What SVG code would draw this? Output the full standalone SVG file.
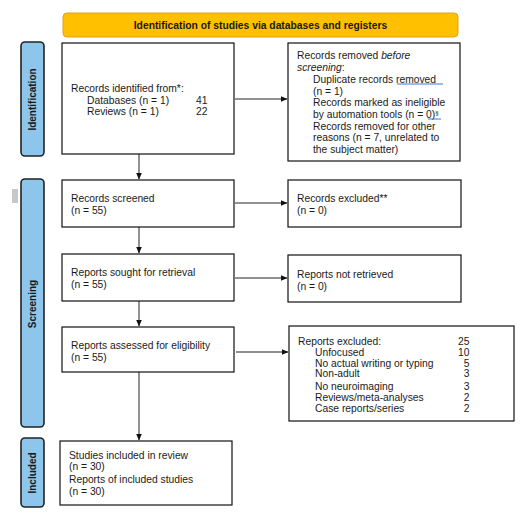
<svg xmlns="http://www.w3.org/2000/svg" width="526" height="522" viewBox="0 0 526 522">
<style>
text{font-family:"Liberation Sans",Arial,sans-serif;font-size:10.3px;fill:#1a1a1a}
.box{fill:#fff;stroke:#111;stroke-width:1.2}
.side{fill:#8ec5eb;stroke:#222;stroke-width:1.6}
.sl{font-weight:bold;font-size:10px;text-anchor:middle}
.hd{font-weight:bold;text-anchor:middle}
.c{stroke:#222;stroke-width:1;fill:none}
.num{text-anchor:end}
.sp{stroke:#3b78d8;stroke-width:1;fill:none}
</style>
<defs>
<marker id="ah" markerWidth="7" markerHeight="6" refX="6.5" refY="3" orient="auto" markerUnits="userSpaceOnUse">
<path d="M0,0 L7,3 L0,6 Z" fill="#111"/>
</marker>
</defs>
<rect width="526" height="522" fill="#fff"/>
<g id="header">
<rect x="63" y="13" width="395" height="24" rx="4" fill="#ffc000" stroke="#e0a31a" stroke-width="1"/>
<text class="hd" x="260.5" y="29">Identification of studies via databases and registers</text>
</g>
<g id="side-identification">
<rect class="side" x="21" y="42" width="23" height="114" rx="4"/>
<text class="sl" transform="translate(36,99.5) rotate(-90)">Identification</text>
</g>
<g id="side-screening">
<rect class="side" x="21" y="179" width="23" height="248" rx="4"/>
<text class="sl" transform="translate(36,304) rotate(-90)">Screening</text>
</g>
<g id="side-included">
<rect class="side" x="21" y="438" width="23" height="69" rx="4"/>
<text class="sl" transform="translate(36,473) rotate(-90)">Included</text>
</g>
<rect x="12" y="189" width="6" height="14" fill="#c8c8c8"/>
<g id="connectors">
<line class="c" x1="235" y1="99" x2="287" y2="99" marker-end="url(#ah)"/>
<line class="c" x1="139" y1="154" x2="139" y2="179" marker-end="url(#ah)"/>
<line class="c" x1="235" y1="203" x2="287" y2="203" marker-end="url(#ah)"/>
<line class="c" x1="139" y1="227" x2="139" y2="253" marker-end="url(#ah)"/>
<line class="c" x1="235" y1="278" x2="287" y2="278" marker-end="url(#ah)"/>
<line class="c" x1="139" y1="301" x2="139" y2="326" marker-end="url(#ah)"/>
<line class="c" x1="236" y1="352" x2="288" y2="352" marker-end="url(#ah)"/>
<line class="c" x1="139" y1="372" x2="139" y2="440" marker-end="url(#ah)"/>
</g>
<g id="records-identified">
<rect class="box" x="62" y="43" width="172" height="111"/>
<text x="71" y="91.5">Records identified from*:</text>
<text x="87" y="103.5">Databases (n = 1)</text>
<text x="196" y="103.5">41</text>
<text x="87" y="114.5">Reviews (n = 1)</text>
<text x="196" y="114.5">22</text>
</g>
<g id="records-removed">
<rect class="box" x="288" y="43" width="172" height="118"/>
<text x="297" y="58.5">Records removed <tspan font-style="italic">before</tspan></text>
<text x="297" y="70.5"><tspan font-style="italic">screening</tspan>:</text>
<text x="313" y="82.5">Duplicate records removed</text>
<text x="313" y="94.5">(n = 1)</text>
<text x="313" y="105.5">Records marked as ineligible</text>
<text x="313" y="117.5">by automation tools (n = 0)<tspan font-size="6" dy="-3">§</tspan></text>
<text x="313" y="129.5">Records removed for other</text>
<text x="313" y="140.5">reasons (n = 7, unrelated to</text>
<text x="313" y="152.5">the subject matter)</text>
<path class="sp" d="M397,84 L443,84"/>
<path class="sp" d="M314.5,91 L314.5,95"/>
<path class="sp" d="M428,119 L441,119"/>
</g>
<g id="records-screened">
<rect class="box" x="62" y="180" width="172" height="47"/>
<text x="71" y="201.5">Records screened</text>
<text x="71" y="213.5">(n = 55)</text>
</g>
<g id="records-excluded">
<rect class="box" x="288" y="180" width="173" height="47"/>
<text x="297" y="201.5">Records excluded**</text>
<text x="297" y="213.5">(n = 0)</text>
</g>
<g id="reports-sought">
<rect class="box" x="62" y="254" width="172" height="47"/>
<text x="71" y="275.5">Reports sought for retrieval</text>
<text x="71" y="287.5">(n = 55)</text>
</g>
<g id="reports-not-retrieved">
<rect class="box" x="288" y="255" width="173" height="47"/>
<text x="297" y="277.5">Reports not retrieved</text>
<text x="297" y="289.5">(n = 0)</text>
</g>
<g id="reports-assessed">
<rect class="box" x="62" y="327" width="172" height="45"/>
<text x="71" y="348.5">Reports assessed for eligibility</text>
<text x="71" y="360.5">(n = 55)</text>
</g>
<g id="reports-excluded">
<rect class="box" x="289" y="326" width="225" height="95"/>
<text x="298" y="344.5">Reports excluded:</text>
<text class="num" x="469.5" y="344.5">25</text>
<text x="315" y="355.5">Unfocused</text>
<text class="num" x="469.5" y="355.5">10</text>
<text x="315" y="366.5">No actual writing or typing</text>
<text class="num" x="469.5" y="366.5">5</text>
<text x="315" y="377">Non-adult</text>
<text class="num" x="469.5" y="377">3</text>
<text x="315" y="389.5">No neuroimaging</text>
<text class="num" x="469.5" y="389.5">3</text>
<text x="315" y="400.5">Reviews/meta-analyses</text>
<text class="num" x="469.5" y="400.5">2</text>
<text x="315" y="412">Case reports/series</text>
<text class="num" x="469.5" y="412">2</text>
</g>
<g id="studies-included">
<rect class="box" x="60" y="441" width="172" height="64"/>
<text x="69" y="458.5">Studies included in review</text>
<text x="69" y="470">(n = 30)</text>
<text x="69" y="482.5">Reports of included studies</text>
<text x="69" y="495">(n = 30)</text>
</g>
</svg>
